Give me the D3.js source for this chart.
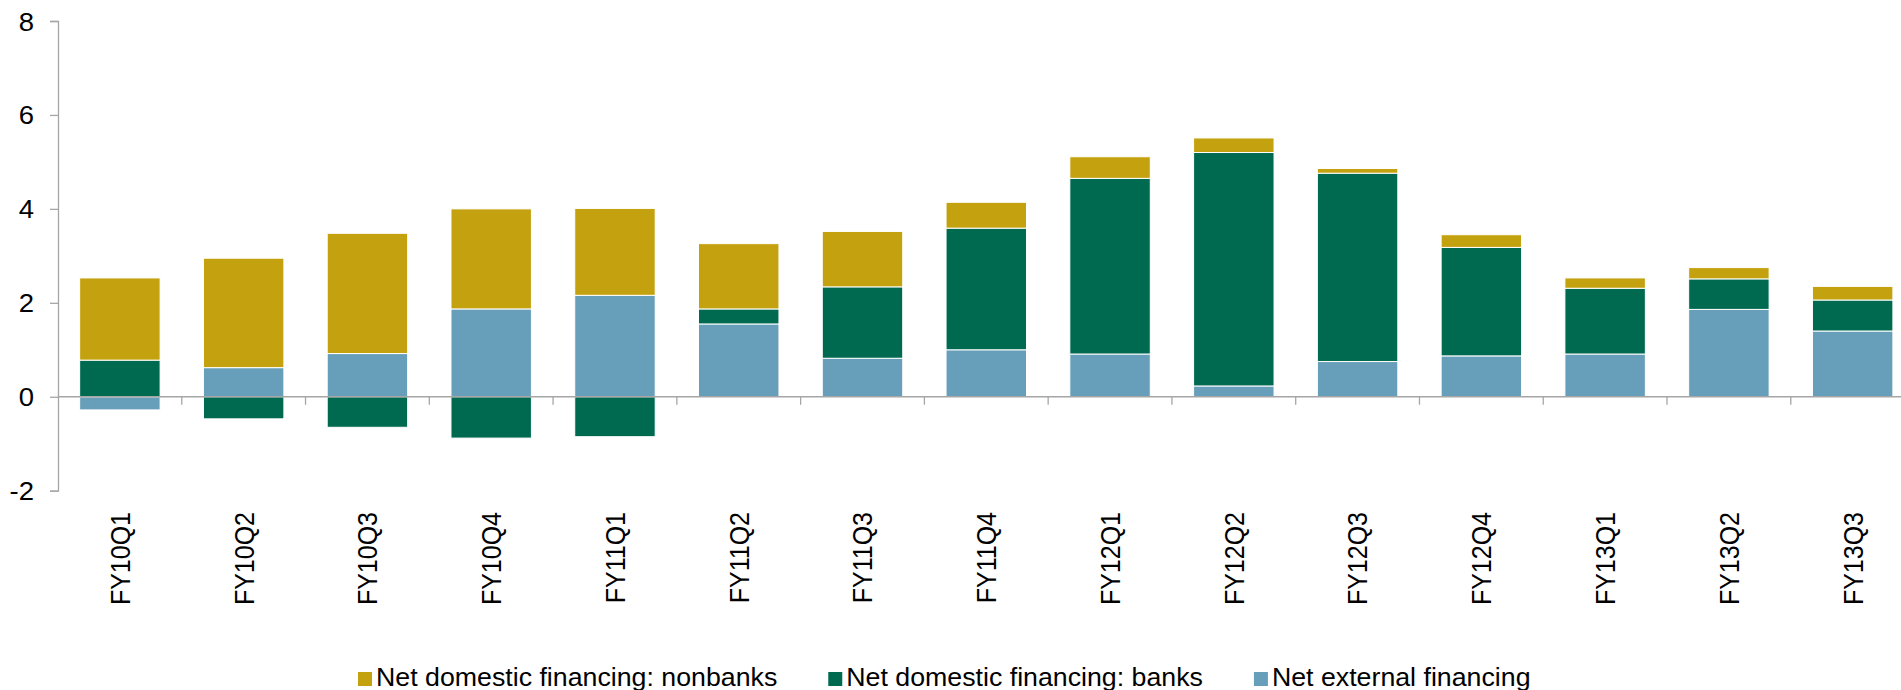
<!DOCTYPE html>
<html>
<head>
<meta charset="utf-8">
<script src="https://cdn.jsdelivr.net/npm/d3@7/dist/d3.min.js"></script>
<style>
  html, body { margin: 0; padding: 0; background: #fff; }
  svg { display: block; }
  text { font-family: "Liberation Sans", Arial, sans-serif; fill: #000; }
</style>
</head>
<body>
<svg id="chart" width="1901" height="690"></svg>
<script>
// Quarterly financing components (% of GDP)
const categories = ["FY10Q1","FY10Q2","FY10Q3","FY10Q4","FY11Q1","FY11Q2","FY11Q3","FY11Q4",
                    "FY12Q1","FY12Q2","FY12Q3","FY12Q4","FY13Q1","FY13Q2","FY13Q3"];
const externalFinancing = [-0.28, 0.62, 0.92, 1.87, 2.16, 1.55, 0.82, 1.00, 0.91, 0.23, 0.75, 0.87, 0.91, 1.86, 1.40];
const domesticBanks     = [0.78, -0.47, -0.65, -0.88, -0.85, 0.32, 1.52, 2.59, 3.74, 4.97, 4.01, 2.31, 1.40, 0.65, 0.66];
const domesticNonbanks  = [1.75, 2.33, 2.56, 2.13, 1.85, 1.39, 1.18, 0.55, 0.46, 0.31, 0.10, 0.27, 0.22, 0.24, 0.29];
const yTicks = [-2, 0, 2, 4, 6, 8];

const seriesNames = {
  nonbanks: "Net domestic financing: nonbanks",
  banks: "Net domestic financing: banks",
  external: "Net external financing"
};
const colors = { nonbanks: "#c4a10e", banks: "#006a51", external: "#679fba" };

const rows = categories.map((c, i) => ({
  cat: c,
  external: externalFinancing[i],
  banks: domesticBanks[i],
  nonbanks: domesticNonbanks[i]
}));

const svg = d3.select("#chart");
const axisColor = "#a6a6a6";
const left = 58, step = 123.77;

const x = d3.scaleBand()
  .domain(categories)
  .range([left, left + step * categories.length])
  .paddingInner(0.35)
  .paddingOuter(0.175);

const y = d3.scaleLinear().domain([-2, 8]).range([490.7, 21]);

// stacked bars, positives upward and negatives downward from zero
const stack = d3.stack()
  .keys(["external", "banks", "nonbanks"])
  .offset(d3.stackOffsetDiverging);
const layers = stack(rows);

svg.append("g").selectAll("g")
  .data(layers)
  .join("g")
  .attr("fill", d => colors[d.key])
  .selectAll("rect")
  .data(d => d)
  .join("rect")
  .attr("x", d => x(d.data.cat))
  .attr("width", x.bandwidth())
  .attr("y", d => y(Math.max(d[0], d[1])))
  .attr("height", d => Math.abs(y(d[0]) - y(d[1])))
  .attr("stroke", "#ffffff")
  .attr("stroke-width", 1);

// y axis
const yAxis = svg.append("g")
  .attr("transform", `translate(${left},0)`)
  .call(d3.axisLeft(y).tickValues(yTicks).tickSize(8).tickPadding(0));
yAxis.select(".domain").attr("stroke", axisColor).attr("stroke-width", 1.3);
yAxis.selectAll(".tick line").attr("stroke", axisColor).attr("stroke-width", 1.3);
yAxis.selectAll(".tick text").remove();
yAxis.selectAll(".tick").append("g")
  .attr("transform", "translate(-24,0) scale(1.1,1)")
  .append("text")
  .attr("text-anchor", "end")
  .attr("dy", "0.36em")
  .attr("font-size", 25)
  .text(d => String(d));

// zero line with category boundary ticks
const xAxis = svg.append("g");
xAxis.append("line")
  .attr("x1", left).attr("x2", 1901)
  .attr("y1", y(0)).attr("y2", y(0))
  .attr("stroke", axisColor).attr("stroke-width", 1.3);
const bounds = d3.range(1, categories.length).map(i => left + i * x.step());
xAxis.selectAll("line.bound")
  .data(bounds)
  .join("line")
  .attr("class", "bound")
  .attr("x1", d => d).attr("x2", d => d)
  .attr("y1", y(0)).attr("y2", y(0) + 8)
  .attr("stroke", axisColor).attr("stroke-width", 1.3);

// rotated category labels
svg.append("g").selectAll("g")
  .data(categories)
  .join("g")
  .attr("transform", d => `translate(${x(d) + x.bandwidth() / 2},512) scale(1.1,1) rotate(-90)`)
  .append("text")
  .attr("text-anchor", "end")
  .attr("dy", "0.36em")
  .attr("font-size", 25)
  .text(d => d);

// legend
const legendKeys = ["nonbanks", "banks", "external"];
const legend = svg.append("g");
let lx = 358;
legendKeys.forEach(k => {
  const item = legend.append("g").attr("transform", `translate(${lx},0)`);
  item.append("rect")
    .attr("x", 0).attr("y", 672)
    .attr("width", 14).attr("height", 14)
    .attr("fill", colors[k]);
  const t = item.append("g").attr("transform", "translate(18,686) scale(1.07,1)")
    .append("text")
    .attr("font-size", 25)
    .text(seriesNames[k]);
  const w = t.node().getComputedTextLength() * 1.07;
  lx += 18 + w + 51;
});
</script>
</body>
</html>
